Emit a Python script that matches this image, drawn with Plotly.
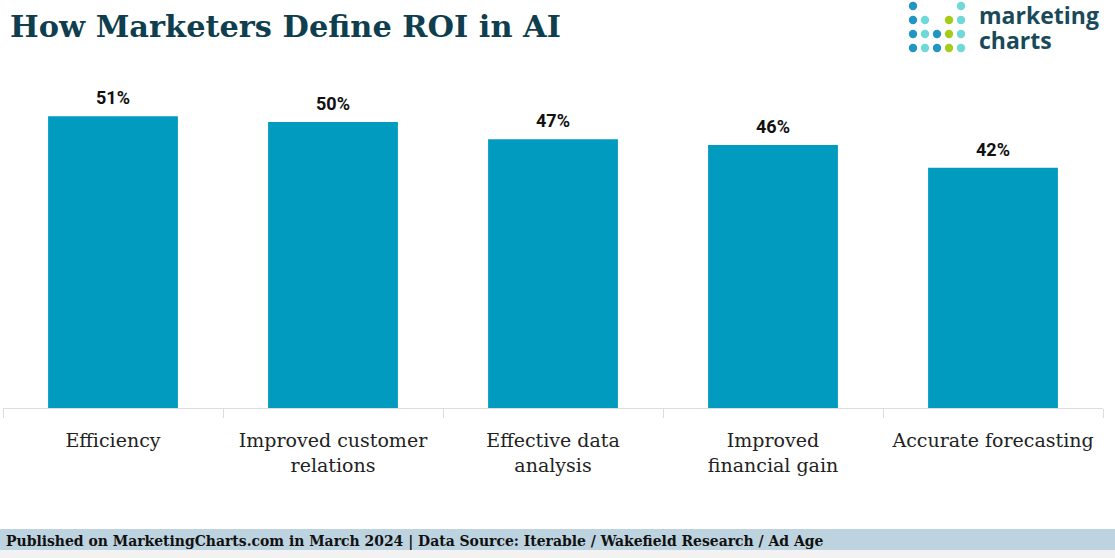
import plotly.graph_objects as go

categories = ["Efficiency", "Improved customer<br>relations", "Effective data<br>analysis",
              "Improved<br>financial gain", "Accurate forecasting"]
values = [51, 50, 47, 46, 42]
value_labels = ["51%", "50%", "47%", "46%", "42%"]

title_text = "How Marketers Define ROI in AI"
footer_text = "Published on MarketingCharts.com in March 2024 | Data Source: Iterable / Wakefield Research / Ad Age"

W, H = 1115, 558
ML, MR, MT, MB = 3, 12, 82, 150
PW, PH = W - ML - MR, H - MT - MB

fig = go.Figure()
fig.add_trace(go.Bar(
    x=categories, y=values,
    marker=dict(color="#019bc0", line=dict(width=0)),
    hoverinfo="skip",
))

shapes = []
annotations = []

for c, v, t in zip(categories, values, value_labels):
    annotations.append(dict(x=c, y=v, xref="x", yref="y", text=t, showarrow=False,
                            yanchor="bottom", yshift=6,
                            font=dict(family="Roboto", size=18, color="#111111", weight="bold")))


def px(x):
    return (x - ML) / PW


def py(y):
    return (H - MB - y) / PH


shapes.append(dict(type="rect", xref="paper", yref="paper", x0=px(0), x1=px(W), y0=py(550), y1=py(529),
                   fillcolor="#bdd3df", line=dict(width=0), layer="below"))
shapes.append(dict(type="rect", xref="paper", yref="paper", x0=px(0), x1=px(W), y0=py(558), y1=py(550),
                   fillcolor="#f2f2f2", line=dict(width=0), layer="below"))

annotations.append(dict(text=footer_text, xref="paper", yref="paper", x=px(4), y=py(540),
                        xanchor="left", yanchor="middle", showarrow=False,
                        font=dict(family="DejaVu Serif Condensed, DejaVu Serif", size=15.5,
                                  color="#111111", weight="bold")))

annotations.append(dict(text=title_text, xref="paper", yref="paper", x=px(8), y=py(26),
                        xanchor="left", yanchor="middle", showarrow=False,
                        font=dict(family="DejaVu Serif", size=30.4, color="#0f3f4f", weight="bold")))

# logo dots
B, C, G = "#2196c4", "#6fd8d8", "#a6cc1a"
cols = [913, 925, 937, 949, 961]
rows = [6, 20, 34, 48]
pattern = [
    [B, None, None, None, C],
    [B, C, None, G, C],
    [B, C, B, G, C],
    [B, C, B, G, C],
]
r = 4.2
for ri, row in enumerate(pattern):
    for ci, col in enumerate(row):
        if col is None:
            continue
        cx, cy = cols[ci], rows[ri]
        shapes.append(dict(type="circle", xref="paper", yref="paper",
                           x0=px(cx - r), x1=px(cx + r), y0=py(cy + r), y1=py(cy - r),
                           fillcolor=col, line=dict(width=0)))

annotations.append(dict(text="marketing", xref="paper", yref="paper", x=px(977), y=py(15),
                        xanchor="left", yanchor="middle", showarrow=False,
                        font=dict(family="Open Sans", size=23, color="#1a4a5a", weight="bold")))
annotations.append(dict(text="charts", xref="paper", yref="paper", x=px(977), y=py(40),
                        xanchor="left", yanchor="middle", showarrow=False,
                        font=dict(family="Open Sans", size=23, color="#1a4a5a", weight="bold")))

fig.update_layout(
    width=W, height=H,
    margin=dict(l=ML, r=MR, t=MT, b=MB, autoexpand=False),
    paper_bgcolor="white", plot_bgcolor="white",
    bargap=0.41, showlegend=False,
    shapes=shapes, annotations=annotations,
    xaxis=dict(type="category", tickson="boundaries", ticks="outside", ticklen=9,
               tickcolor="#dddddd", showline=True, linecolor="#dddddd", linewidth=1,
               showgrid=False, tickangle=0, ticklabelstandoff=15,
               tickfont=dict(family="DejaVu Serif", size=19, color="#222222"),
               automargin=False, fixedrange=True),
    yaxis=dict(range=[0, 57], visible=False, showgrid=False, zeroline=False, fixedrange=True,
               automargin=False),
)

fig.write_html("out.html", config={"displayModeBar": False},
               post_script="document.body.style.margin='0';document.body.style.padding='0';"
                           "document.body.style.overflow='hidden';")
